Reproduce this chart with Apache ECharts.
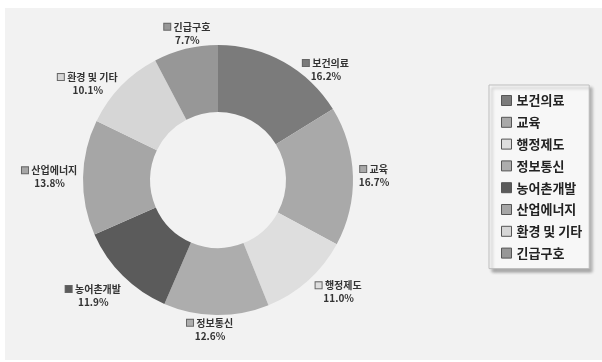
<!DOCTYPE html>
<html>
<head>
<meta charset="utf-8">
<script src="https://cdn.jsdelivr.net/npm/echarts@6/dist/echarts.min.js"></script>
<style>
  html, body { margin: 0; padding: 0; background: #ffffff; }
  #chart { width: 602px; height: 362px; }
</style>
</head>
<body>
<div id="chart"></div>
<script>
// Sector shares (%)
const categories = ['보건의료', '교육', '행정제도', '정보통신', '농어촌개발', '산업에너지', '환경 및 기타', '긴급구호'];
const shares = [16.2, 16.7, 11.0, 12.6, 11.9, 13.8, 10.1, 7.7];
const sliceColors = ['#7b7b7b', '#a9a9a9', '#dedede', '#adadad', '#5b5b5b', '#a6a6a6', '#d6d6d6', '#979797'];

const FONT = '"Noto Sans CJK KR", "Noto Sans", sans-serif';
const CX = 218, CY = 180, R_IN = 68, R_OUT = 135, GAP = 5;

// small per-label nudges (px) applied after the radial placement
const labelNudge = {
  '보건의료': [29, 31], '행정제도': [11, -11], '정보통신': [-6, -3],
  '농어촌개발': [-6, -4], '환경 및 기타': [-8, 22], '긴급구호': [7, 6]
};

// mid angle of each slice, clockwise from 12 o'clock
const total = shares.reduce((a, b) => a + b, 0);
const midAngles = [];
let acc = 0;
shares.forEach(v => { midAngles.push((acc + v / 2) / total * 2 * Math.PI); acc += v; });

const rich = {
  name: { fontSize: 10, fontWeight: 'bold', color: '#333', fontFamily: FONT, lineHeight: 13 },
  pct: { fontSize: 10, fontWeight: 'bold', color: '#333', fontFamily: FONT, lineHeight: 13 }
};
sliceColors.forEach((c, i) => {
  rich['sq' + i] = { width: 6, height: 6, backgroundColor: c, borderColor: '#666', borderWidth: 1 };
});

const chart = echarts.init(document.getElementById('chart'), null, { renderer: 'canvas' });
chart.setOption({
  backgroundColor: '#ffffff',
  animation: false,
  graphic: [{
    type: 'rect', z: -10, silent: true,
    shape: { x: 5, y: 8, width: 597, height: 352 },
    style: { fill: '#f2f2f2' }
  }],
  legend: {
    orient: 'vertical',
    left: 489, top: 85,
    padding: [9, 7, 9, 12],
    itemGap: 8.8,
    itemWidth: 10, itemHeight: 10,
    icon: 'rect',
    backgroundColor: '#f7f7f7',
    borderColor: '#bdbdbd', borderWidth: 1,
    shadowColor: 'rgba(0,0,0,0.3)', shadowBlur: 3, shadowOffsetX: 3, shadowOffsetY: 3,
    itemStyle: { borderColor: '#555', borderWidth: 1 },
    textStyle: { fontSize: 13, fontWeight: 'bold', color: '#222', fontFamily: FONT },
    data: categories
  },
  series: [{
    type: 'pie',
    center: [CX, CY],
    radius: [R_IN, R_OUT],
    startAngle: 90,
    clockwise: true,
    avoidLabelOverlap: false,
    label: {
      show: true,
      position: 'outside',
      formatter: p => `{sq${p.dataIndex}|} {name|${p.name}}\n{pct|${p.value.toFixed(1)}%}`,
      rich: rich
    },
    labelLine: { show: false },
    labelLayout: function (p) {
      const a = midAngles[p.dataIndex];
      const dx = Math.sin(a), dy = -Math.cos(a);
      const w = p.labelRect.width, h = p.labelRect.height;
      const d = R_OUT + GAP + Math.abs(dx) * w / 2 + Math.abs(dy) * h / 2;
      const n = labelNudge[categories[p.dataIndex]] || [0, 0];
      return { x: CX + dx * d + n[0], y: CY + dy * d + n[1], align: 'center', verticalAlign: 'middle' };
    },
    emphasis: { disabled: true },
    data: categories.map((c, i) => ({ name: c, value: shares[i], itemStyle: { color: sliceColors[i] } }))
  }]
});
</script>
</body>
</html>
